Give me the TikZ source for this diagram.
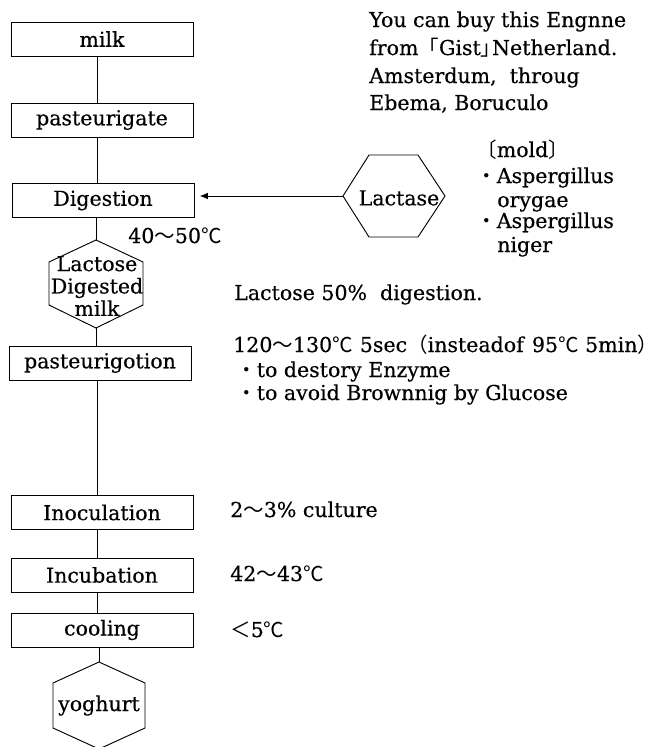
\documentclass[tikz,border=0pt]{standalone}
\usepackage{fontspec}
\setmainfont[FakeBold=0.4]{DejaVu Serif}
\newfontfamily\cjk{Noto Sans CJK JP}
\usetikzlibrary{arrows.meta,calc}
\newcommand\jp[1]{{\cjk #1}}

\begin{document}
\begin{tikzpicture}[x=0.75pt,y=-0.75pt,
  every node/.style={font=\fontsize{15.4}{18}\selectfont, inner sep=0pt},
  stepbox/.style={draw, line width=0.7pt, minimum width=136.5pt, minimum height=25.5pt},
  link/.style={line width=0.7pt},
  hexline/.style={line width=0.7pt},
  note/.style={anchor=base west},
]
\useasboundingbox (0,0) rectangle (661,747);

% vertical spine of the process chain
\coordinate (spine) at (97,0);

% process steps
\node[stepbox] (milk)  at (102,39)    {milk};
\node[stepbox] (past)  at (102,120)   {pasteurigate};
\node[stepbox] (dig)   at (103,200.5) {Digestion};
\node[stepbox] (past2) at (100,363)   {pasteurigotion};
\node[stepbox] (inoc)  at (102,512.5) {Inoculation};
\node[stepbox] (incub) at (102,575)   {Incubation};
\node[stepbox] (cool)  at (102,630)   {cooling};

% hexagon: lactose digested milk
\coordinate (ldm) at (96,284);
\coordinate (ldm-top) at ($(ldm)+(0,-44)$);
\coordinate (ldm-bot) at ($(ldm)+(0,44)$);
\draw[hexline] (ldm-top) -- ($(ldm)+(47,-22)$) -- ($(ldm)+(47,21)$) -- (ldm-bot)
  -- ($(ldm)+(-47,21)$) -- ($(ldm)+(-47,-22)$) -- cycle;
\node[align=center, font=\fontsize{15.4}{16.8}\selectfont] (ldmtext) at ($(ldm)+(1,2)$) {Lactose\\Digested\\milk};

% hexagon: yoghurt
\coordinate (yog) at (99,705.5);
\coordinate (yog-top) at ($(yog)+(0,-43.5)$);
\coordinate (yog-bot) at ($(yog)+(0,43.5)$);
\draw[hexline] (yog-top) -- ($(yog)+(46,-22.5)$) -- ($(yog)+(46,22.5)$) -- (yog-bot)
  -- ($(yog)+(-46,22.5)$) -- ($(yog)+(-46,-22.5)$) -- cycle;
\node (yogtext) at (yog) {yoghurt};

% hexagon: lactase
\coordinate (lac) at (394,196);
\coordinate (lac-left) at ($(lac)+(-51,0)$);
\draw[hexline] (lac-left) -- ($(lac)+(-25,-41)$) -- ($(lac)+(24,-41)$) -- ($(lac)+(51,0)$)
  -- ($(lac)+(24,41)$) -- ($(lac)+(-25,41)$) -- cycle;
\node (lactext) at ($(lac)+(5,2)$) {Lactase};

% connectors
\draw[link] (milk.south -| spine) -- (past.north -| spine);
\draw[link] (past.south -| spine) -- (dig.north -| spine);
\draw[link] (dig.south -| ldm-top) -- (ldm-top);
\draw[link] (ldm-bot) -- (past2.north -| ldm-bot);
\draw[link] (past2.south -| spine) -- (inoc.north -| spine);
\draw[link] (inoc.south -| spine) -- (incub.north -| spine);
\draw[link] (incub.south -| spine) -- (cool.north -| spine);
\draw[link] (cool.south -| yog-top) -- (yog-top);
\draw[link, -{Latex[length=6pt,width=5pt]}, shorten >=4pt] (lac-left) -- (dig.east |- lac-left);

% notes
\node[note] (src1) at (369,27)  {You can buy this Engnne};
\node[note] (src2) at (369,55)  {from\jp{「}Gist\jp{」}\kern-0.45em Netherland.};
\node[note] (src3) at (369,83)  {Amsterdum,\ \ throug};
\node[note] (src4) at (369,110) {Ebema, Boruculo};

\node[note] (mold0) at (476,157) {\jp{〔}mold\jp{〕}};
\node[note] (mold1) at (476,183) {\jp{・}Aspergillus};
\node[note] (mold2) at (497,207) {orygae};
\node[note] (mold3) at (476,228) {\jp{・}Aspergillus};
\node[note] (mold4) at (497,252) {niger};

\node[note] (temp1) at (128,243) {40\jp{～}50\jp{℃}};
\node[note] (rate)  at (234,300) {Lactose 50\%\ \ digestion.};
\node[note] (heat)  at (233,352) {120\jp{～}130\jp{℃}\hspace{0.35em}5sec\jp{（}insteadof\hspace{0.4em}95\jp{℃} 5min\jp{）}};
\node[note] (why1)  at (236,377) {\jp{・}to destory Enzyme};
\node[note] (why2)  at (236,400) {\jp{・}to avoid Brownnig by Glucose};
\node[note] (cult)  at (230,517) {2\jp{～}3\%\ culture};
\node[note] (temp2) at (230,581) {42\jp{～}43\jp{℃}};
\node[note] (temp3) at (230,637) {\jp{＜}5\jp{℃}};
\end{tikzpicture}
\end{document}
